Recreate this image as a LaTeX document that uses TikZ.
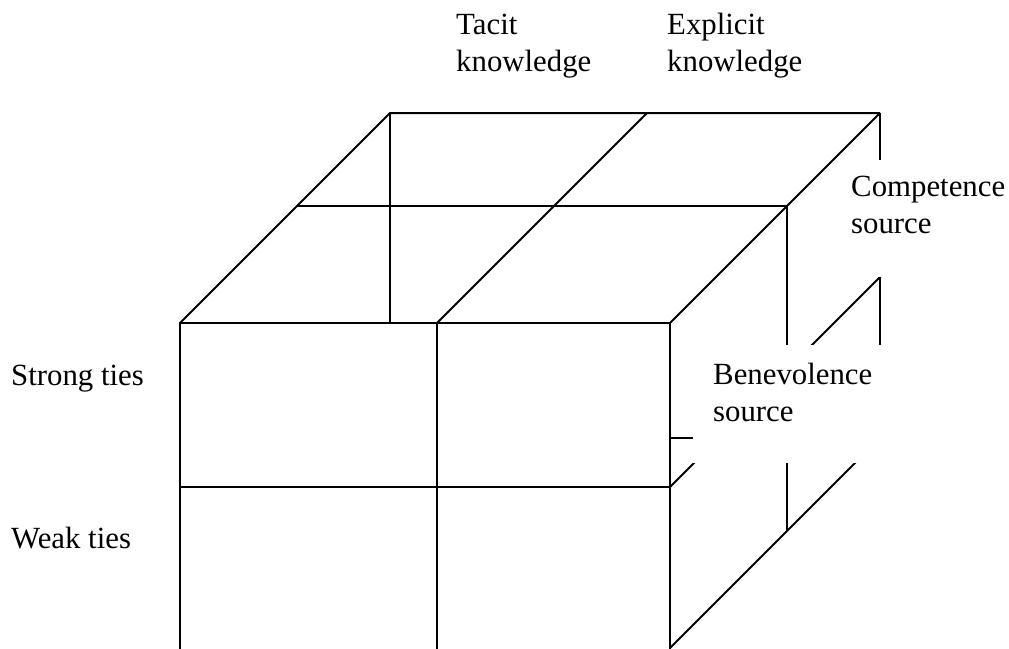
\documentclass[tikz,border=0pt]{standalone}
\usepackage{fontspec}
\setmainfont{Liberation Serif}
\begin{document}
\begin{tikzpicture}[x=1pt,y=-1pt,
    edge/.style={line width=2pt},
    mask/.style={fill=white, draw=none},
    caption/.style={anchor=base west, inner sep=0pt,
      font=\fontsize{30.8}{37}\selectfont}]
  \clip (0,0) rectangle (1009,648);

  % corners of the cube (front, middle depth, back)
  \coordinate (fTL) at (180,323);  \coordinate (fTM) at (437,323);  \coordinate (fTR) at (670,323);
  \coordinate (fML) at (180,487);  \coordinate (fMR) at (670,487);
  \coordinate (fBL) at (180,660);  \coordinate (fBM) at (437,660);  \coordinate (fBR) at (670,648);
  \coordinate (mTL) at (297,206);  \coordinate (mTR) at (787,206);  \coordinate (mBR) at (787,531);
  \coordinate (bTL) at (390,113);  \coordinate (bTM) at (647,113);  \coordinate (bTR) at (880,113);
  \coordinate (bML) at (390,323);  \coordinate (bMR) at (880,277);
  \coordinate (bBL) at (390,438);  \coordinate (bBR) at (880,438);

  % top face
  \draw[edge] (fTL) -- (bTL) -- (bTR);
  \draw[edge] (fTM) -- (bTM);
  \draw[edge] (fTR) -- (bTR);
  \draw[edge] (mTL) -- (mTR);
  \draw[edge] (bTL) -- (bML);
  % right face and back edges
  \draw[edge] (bTR) -- (bBR);
  \draw[edge] (mTR) -- (mBR);
  \draw[edge] (fMR) -- (bMR);
  \draw[edge] (fBR) -- (bBR);
  \draw[edge] (bBL) -- (bBR);

  % front face
  \draw[edge, fill=white] (fBL) -- (fTL) -- (fTR) -- (670,660);
  \draw[edge] (fTM) -- (fBM);
  \draw[edge] (fML) -- (fMR);

  % clear space for the right-hand captions
  \fill[mask] (845,160) rectangle (1009,277);
  \fill[mask] (693,345) rectangle (1009,463);

  % captions
  \node[caption] (tacit) at (456,34)
    {\begin{tabular}[t]{@{}l@{}}Tacit\\knowledge\end{tabular}};
  \node[caption] (explicit) at (667,34)
    {\begin{tabular}[t]{@{}l@{}}Explicit\\knowledge\end{tabular}};
  \node[caption] (competence) at (851,196)
    {\begin{tabular}[t]{@{}l@{}}Competence\\source\end{tabular}};
  \node[caption] (benevolence) at (713,384)
    {\begin{tabular}[t]{@{}l@{}}Benevolence\\source\end{tabular}};
  \node[caption] (strong) at (11,385) {Strong ties};
  \node[caption] (weak) at (11,548) {Weak ties};
\end{tikzpicture}
\end{document}
